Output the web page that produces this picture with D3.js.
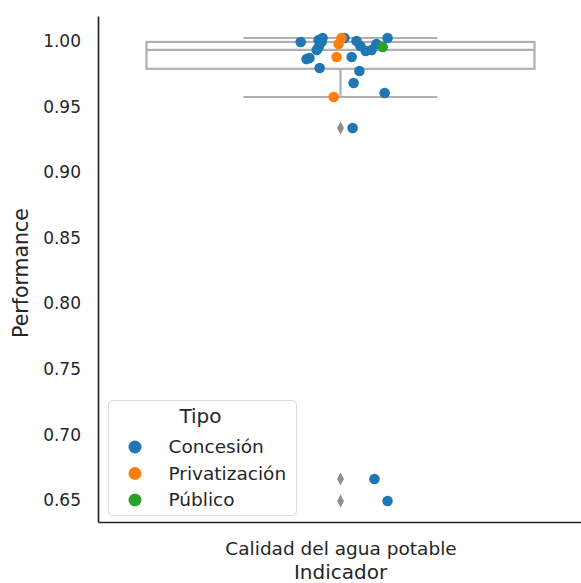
<!DOCTYPE html>
<html>
<head>
<meta charset="utf-8">
<script src="https://cdn.jsdelivr.net/npm/d3@7"></script>
<style>
  html, body { margin: 0; padding: 0; background: #fff; }
  svg { display: block; font-family: "DejaVu Sans", sans-serif; }
</style>
</head>
<body>
<svg id="chart" width="581" height="583"></svg>
<script>
// Performance values per operator type, with the strip jitter (in category units)
const category = "Calidad del agua potable";
const tipos = ["Concesión", "Privatización", "Público"];
const colors = ["#1f77b4", "#ff7f0e", "#2ca02c"];

const concesionValues = [0.9995, 1.0010, 1.0025, 0.9995, 0.9957, 0.9934, 0.9873, 0.9865, 0.9796,
  1.0025, 0.9880, 1.0002, 0.9964, 0.9926, 0.9934, 0.9979, 1.0025, 0.9773, 0.9682, 0.9606,
  0.9339, 0.6661, 0.6493];
const concesionJitter = [-0.082, -0.045, -0.037, -0.039, -0.045, -0.049, -0.064, -0.070, -0.043,
  0.008, 0.023, 0.033, 0.041, 0.052, 0.064, 0.074, 0.097, 0.039, 0.027, 0.091,
  0.025, 0.070, 0.097];
const privatizacionValues = [1.0025, 0.9979, 0.9880, 0.9575];
const privatizacionJitter = [0.002, -0.004, -0.008, -0.014];
const publicoValues = [0.9957];
const publicoJitter = [0.087];

const yTicks = [0.65, 0.70, 0.75, 0.80, 0.85, 0.90, 0.95, 1.00];

const groups = [
  { tipo: tipos[0], values: concesionValues, jitter: concesionJitter },
  { tipo: tipos[1], values: privatizacionValues, jitter: privatizacionJitter },
  { tipo: tipos[2], values: publicoValues, jitter: publicoJitter }
];
const points = groups.flatMap(g => g.values.map((v, i) => ({ tipo: g.tipo, value: v, jitter: g.jitter[i] })));

const svg = d3.select("#chart");
const margin = { left: 98, right: -2, top: 16, bottom: 61 };
const W = 581, H = 583;
const ink = "#262626";

const x = d3.scaleLinear().domain([-0.5, 0.5]).range([margin.left, W - margin.right]);
const y = d3.scaleLinear().domain([0.6333, 1.0193]).range([H - margin.bottom, margin.top]);
const color = d3.scaleOrdinal().domain(tipos).range(colors);

// Box statistics (1.5 IQR whiskers)
const all = points.map(d => d.value).sort(d3.ascending);
const q1 = d3.quantile(all, 0.25), med = d3.quantile(all, 0.5), q3 = d3.quantile(all, 0.75);
const iqr = q3 - q1;
const inside = all.filter(v => v >= q1 - 1.5 * iqr && v <= q3 + 1.5 * iqr);
const wLo = d3.min(inside), wHi = d3.max(inside);
const outliers = all.filter(v => v < wLo || v > wHi);

const boxColor = "#b0b0b0";
const boxW = 2.2;
const g = svg.append("g");
const half = 0.4, capHalf = 0.2;

g.append("line").attr("x1", x(0)).attr("x2", x(0)).attr("y1", y(q1)).attr("y2", y(wLo))
  .attr("stroke", boxColor).attr("stroke-width", boxW);
g.append("line").attr("x1", x(0)).attr("x2", x(0)).attr("y1", y(q3)).attr("y2", y(wHi))
  .attr("stroke", boxColor).attr("stroke-width", boxW);
[wLo, wHi].forEach(v => g.append("line")
  .attr("x1", x(-capHalf)).attr("x2", x(capHalf)).attr("y1", y(v)).attr("y2", y(v))
  .attr("stroke", boxColor).attr("stroke-width", boxW));
g.append("rect").attr("x", x(-half)).attr("y", y(q3))
  .attr("width", x(half) - x(-half)).attr("height", y(q1) - y(q3))
  .attr("fill", "none").attr("stroke", boxColor).attr("stroke-width", boxW);
g.append("line").attr("x1", x(-half)).attr("x2", x(half)).attr("y1", y(med)).attr("y2", y(med))
  .attr("stroke", boxColor).attr("stroke-width", boxW);

// Outlier markers: thin diamonds
g.selectAll("path.flier").data(outliers).join("path")
  .attr("class", "flier")
  .attr("d", "M0,-6.5L3.5,0L0,6.5L-3.5,0Z")
  .attr("transform", d => `translate(${x(0)},${y(d)})`)
  .attr("fill", "#8f8f8f");

// Strip points
svg.append("g").selectAll("circle").data(points).join("circle")
  .attr("cx", d => x(d.jitter))
  .attr("cy", d => y(d.value))
  .attr("r", 5.3)
  .attr("fill", d => color(d.tipo));

// Axes
const yAxis = d3.axisLeft(y).tickValues(yTicks).tickFormat(d3.format(".2f")).tickSize(0).tickPadding(17);
const ya = svg.append("g").attr("transform", `translate(${margin.left},0)`).call(yAxis);
ya.select(".domain").attr("stroke", ink).attr("stroke-width", 1.7);
ya.selectAll("text").attr("font-size", 17).attr("fill", ink).attr("font-family", "DejaVu Sans");

const xAxis = d3.axisBottom(x).tickValues([0]).tickFormat(() => category).tickSize(0);
const xa = svg.append("g").attr("transform", `translate(0,${H - margin.bottom})`).call(xAxis);
xa.select(".domain").attr("stroke", ink).attr("stroke-width", 1.7);
xa.selectAll("text").attr("y", 33).attr("dy", 0)
  .attr("font-size", 18.5).attr("fill", ink).attr("font-family", "DejaVu Sans");

svg.append("text").attr("x", x(0)).attr("y", 579).attr("text-anchor", "middle")
  .attr("font-size", 20).attr("fill", ink).text("Indicador");
svg.append("text").attr("transform", "translate(28,273) rotate(-90)")
  .attr("text-anchor", "middle").attr("font-size", 20.5).attr("fill", ink).text("Performance");

// Legend
const lg = svg.append("g").attr("transform", "translate(108.5,400.5)");
lg.append("rect").attr("width", 188).attr("height", 115).attr("rx", 4)
  .attr("fill", "#fff").attr("fill-opacity", 0.8).attr("stroke", "#dcdcdc");
lg.append("text").attr("x", 92).attr("y", 22).attr("text-anchor", "middle")
  .attr("font-size", 20).attr("fill", ink).text("Tipo");
tipos.forEach((t, i) => {
  const row = lg.append("g").attr("transform", `translate(0,${46.5 + i * 26.5})`);
  row.append("circle").attr("cx", 26.5).attr("cy", 0).attr("r", 6.5).attr("fill", color(t));
  row.append("text").attr("x", 60).attr("y", 6).attr("font-size", 18.5).attr("fill", ink).text(t);
});
</script>
</body>
</html>
